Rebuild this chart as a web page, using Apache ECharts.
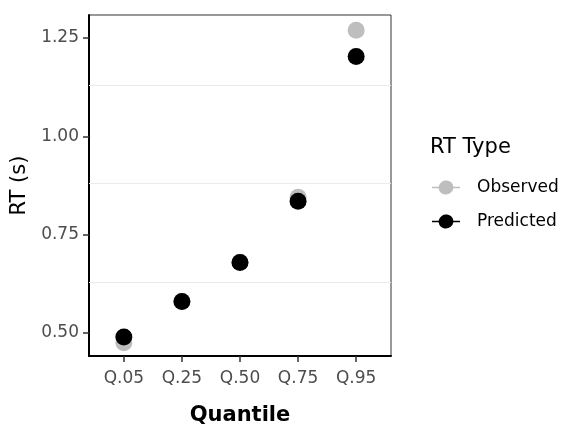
<!DOCTYPE html>
<html>
<head>
<meta charset="utf-8">
<script src="https://cdn.jsdelivr.net/npm/echarts@6/dist/echarts.min.js"></script>
<style>
  html, body { margin: 0; padding: 0; background: #fff; }
  #chart { width: 561px; height: 427px; }
</style>
</head>
<body>
<div id="chart"></div>
<script>
const quantiles = ['Q.05', 'Q.25', 'Q.50', 'Q.75', 'Q.95']
const observed = [0.475, 0.58, 0.68, 0.845, 1.27]
const predicted = [0.49, 0.58, 0.679, 0.835, 1.203]
const yTicks = [0.5, 0.75, 1.0, 1.25]
const yMinorGrid = [0.625, 0.875, 1.125]

const font = 'DejaVu Sans'
const legendIcon = 'path://M0,7.3H6.6A7.5,7.5 0 0,1 21.4,7.3H28V8.7H21.4A7.5,7.5 0 0,1 6.6,8.7H0Z'

function toPoints(values) {
  return values.map((v, i) => [i + 1, v])
}

const chart = echarts.init(document.getElementById('chart'))

chart.setOption({
  animation: false,
  title: {
    text: 'RT Type',
    left: 425,
    top: 132,
    textStyle: { fontFamily: font, fontSize: 21, fontWeight: 'normal', color: '#000' }
  },
  legend: {
    orient: 'vertical',
    left: 427,
    top: 174,
    itemWidth: 28,
    itemHeight: 16,
    itemGap: 17,
    icon: legendIcon,
    textStyle: { fontFamily: font, fontSize: 17, color: '#000', padding: [0, 0, 0, 12] },
    data: ['Observed', 'Predicted']
  },
  grid: {
    left: 89,
    right: 170,
    top: 15,
    bottom: 71,
    outerBoundsMode: 'none',
    containLabel: false,
    show: true,
    borderColor: '#333',
    borderWidth: 1,
    backgroundColor: '#fff'
  },
  xAxis: {
    type: 'value',
    min: 0.4,
    max: 5.6,
    name: 'Quantile',
    nameLocation: 'middle',
    nameGap: 49,
    nameTextStyle: { fontFamily: font, fontSize: 21, fontWeight: 'bold', color: '#000' },
    axisLine: { show: true, onZero: false, lineStyle: { color: '#000', width: 2 } },
    axisTick: { show: true, length: 6, customValues: [1, 2, 3, 4, 5], lineStyle: { color: '#333', width: 1.5 } },
    axisLabel: {
      customValues: [1, 2, 3, 4, 5],
      formatter: v => quantiles[Math.round(v) - 1],
      fontFamily: font,
      fontSize: 17,
      color: '#4d4d4d',
      margin: 14
    },
    splitLine: { show: false }
  },
  yAxis: {
    type: 'value',
    min: 0.4415,
    max: 1.3085,
    name: 'RT (s)',
    nameLocation: 'middle',
    nameGap: 56,
    nameRotate: 90,
    nameTextStyle: { fontFamily: font, fontSize: 21, color: '#000' },
    axisLine: { show: true, onZero: false, lineStyle: { color: '#000', width: 2 } },
    axisTick: { show: true, length: 6, customValues: yTicks, lineStyle: { color: '#333', width: 1.5 } },
    axisLabel: {
      customValues: yTicks,
      formatter: v => v.toFixed(2),
      fontFamily: font,
      fontSize: 17,
      color: '#4d4d4d',
      margin: 10
    },
    splitLine: { show: false }
  },
  series: [
    {
      name: 'Observed',
      type: 'scatter',
      symbol: 'circle',
      symbolSize: 17,
      itemStyle: { color: '#bebebe', opacity: 1 },
      data: toPoints(observed),
      z: 3,
      markLine: {
        silent: true,
        symbol: 'none',
        label: { show: false },
        lineStyle: { color: '#ebebeb', width: 1, type: 'solid' },
        data: yMinorGrid.map(v => ({ yAxis: v }))
      }
    },
    {
      name: 'Predicted',
      type: 'scatter',
      symbol: 'circle',
      symbolSize: 17,
      itemStyle: { color: '#000', opacity: 1 },
      data: toPoints(predicted),
      z: 4
    }
  ]
})
</script>
</body>
</html>
